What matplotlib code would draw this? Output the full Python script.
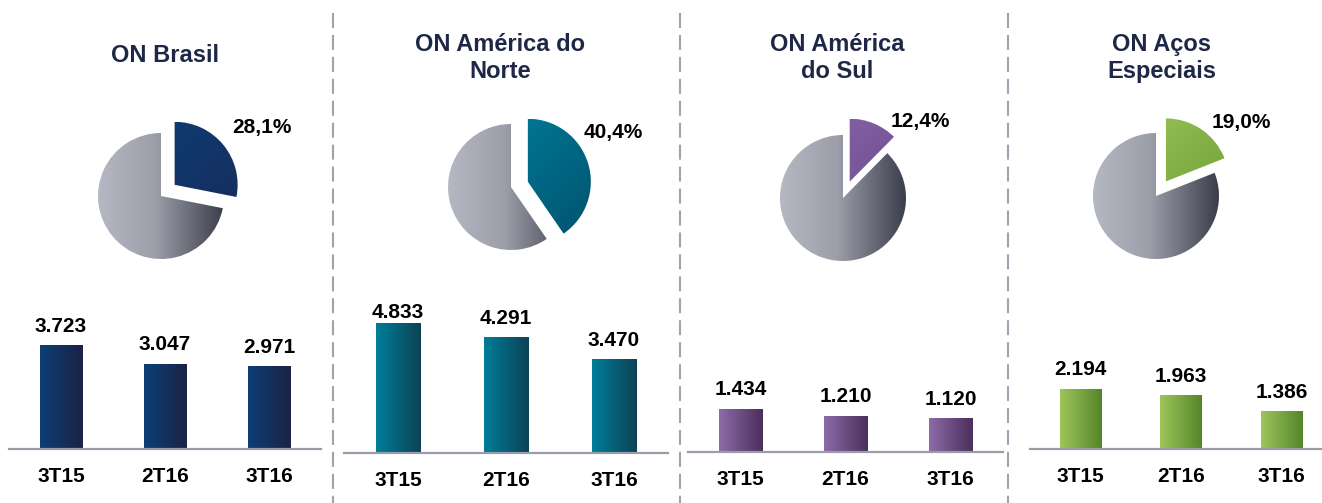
import numpy as np
import matplotlib
matplotlib.use('Agg')
import matplotlib.pyplot as plt
from matplotlib.colors import LinearSegmentedColormap
from matplotlib.lines import Line2D

plt.rcParams['font.family'] = ['Liberation Sans', 'DejaVu Sans']
plt.rcParams['font.weight'] = 'bold'
plt.rcParams['lines.scale_dashes'] = False

#-------data-------
titles = ['ON Brasil', 'ON América do\nNorte', 'ON América\ndo Sul', 'ON Aços\nEspeciais']
quarters = ['3T15', '2T16', '3T16']
brasil = [3723, 3047, 2971]
america_norte = [4833, 4291, 3470]
america_sul = [1434, 1210, 1120]
acos_especiais = [2194, 1963, 1386]
shares = [28.1, 40.4, 12.4, 19.0]
series = [brasil, america_norte, america_sul, acos_especiais]

#-------colours-------
bar_cols = [('#0b3f75', '#1b2246'), ('#007d99', '#0c4255'),
            ('#8c6ba8', '#4b2f5c'), ('#9dc65b', '#55852a')]
slice_cols = [('#0a4079', '#1a2a58'), ('#00809e', '#00526d'),
              ('#8a68a6', '#68448c'), ('#9dc85b', '#6a9932')]
gray_cmap = LinearSegmentedColormap.from_list(
    'g', [(0, '#b5b7c3'), (0.45, '#9c9eaa'), (1, '#3c3e4b')])
title_col = '#1e2846'
line_col = '#9a9ca8'

#-------layout (pixels)-------
W, H = 1322, 503
title_x = [165, 500, 837, 1162]
title_y = [55, 58, 58, 58]
pie_cx = [161, 511, 843, 1156]
pie_cy = [196, 187, 198, 196]
R = 63
K = 1.35
lbl_off = [(1.60, 1.08), (1.62, 0.86), (1.22, 1.21), (1.35, 1.17)]
bar_left = [9, 344, 688, 1030]
bar_wpx = [312, 324, 315, 302]
base_y = [449, 453, 452, 449]
ppu = [0.0279, 0.0270, 0.0300, 0.0274]
bar_hpx = 141
lab_gap = 19
sep_x = [333, 680, 1008]
num_fs = 15


def px_rect(x, ytop, w, h):
    return [x / W, 1 - (ytop + h) / H, w / W, h / H]


def grad_fill(ax, patch, extent, cmap, diag=False):
    if diag:
        gx, gy = np.meshgrid(np.linspace(0, 1, 64), np.linspace(0, 1, 64))
        img = (gx + gy) / 2
    else:
        img = np.linspace(0, 1, 128).reshape(1, -1)
    im = ax.imshow(img, cmap=cmap, extent=extent, origin='upper',
                   aspect='auto', interpolation='bicubic',
                   zorder=patch.get_zorder())
    im.set_clip_path(patch)
    patch.set_facecolor('none')


fig = plt.figure(figsize=(W / 100, H / 100), dpi=100)

for k in range(4):
    # title
    fig.text(title_x[k] / W, 1 - title_y[k] / H, titles[k], ha='center',
             va='center', fontsize=17, color=title_col, linespacing=1.25)

    # pie
    side = 2 * R * K
    axp = fig.add_axes(px_rect(pie_cx[k] - side / 2, pie_cy[k] - side / 2,
                               side, side))
    wedges, _ = axp.pie([shares[k], 100 - shares[k]], explode=[0.28, 0],
                        startangle=90, counterclock=False,
                        wedgeprops=dict(linewidth=0))
    c1, c2 = slice_cols[k]
    wc = wedges[0]
    cx, cy = wc.center
    grad_fill(axp, wc, [cx - 1, cx + 1, cy - 1, cy + 1],
              LinearSegmentedColormap.from_list('s', [c1, c2]), diag=True)
    wg = wedges[1]
    cx, cy = wg.center
    grad_fill(axp, wg, [cx - 1, cx + 1, cy - 1, cy + 1], gray_cmap)
    axp.set_xlim(-K, K)
    axp.set_ylim(-K, K)
    axp.set_aspect('equal')
    axp.axis('off')
    lx, ly = lbl_off[k]
    axp.text(lx, ly, f'{shares[k]:.1f}%'.replace('.', ','), ha='center',
             va='center', fontsize=num_fs, color='black')

    # bars
    axb = fig.add_axes(px_rect(bar_left[k], base_y[k] - bar_hpx, bar_wpx[k], bar_hpx))
    vals = series[k]
    bars = axb.bar(range(3), vals, width=0.41, linewidth=0)
    b1, b2 = bar_cols[k]
    bcmap = LinearSegmentedColormap.from_list('b', [b1, b2])
    for b in bars:
        x0 = b.get_x()
        grad_fill(axb, b, [x0, x0 + b.get_width(), 0, b.get_height()], bcmap)
    top = bar_hpx / ppu[k]
    off = lab_gap / ppu[k]
    for i, v in enumerate(vals):
        axb.text(i, min(v + off, top), f'{v:,}'.replace(',', '.'),
                 ha='center', va='center', fontsize=num_fs, color='black',
                 clip_on=False)
    axb.set_xlim(-0.5, 2.5)
    axb.set_ylim(0, top)
    axb.set_xticks(range(3), quarters)
    axb.set_yticks([])
    axb.tick_params(axis='x', length=0, pad=13, labelsize=num_fs)
    for s in ['top', 'left', 'right']:
        axb.spines[s].set_visible(False)
    axb.spines['bottom'].set_color(line_col)
    axb.spines['bottom'].set_linewidth(1.6)
    axb.patch.set_alpha(0)

# dashed separators
for x in sep_x:
    ln = Line2D([x / W, x / W], [1 - 13 / H, 0], transform=fig.transFigure,
                color='#a0a2ae', linewidth=1.5, dashes=(10.8, 5))
    fig.add_artist(ln)

fig.savefig('out.png', dpi=100)
